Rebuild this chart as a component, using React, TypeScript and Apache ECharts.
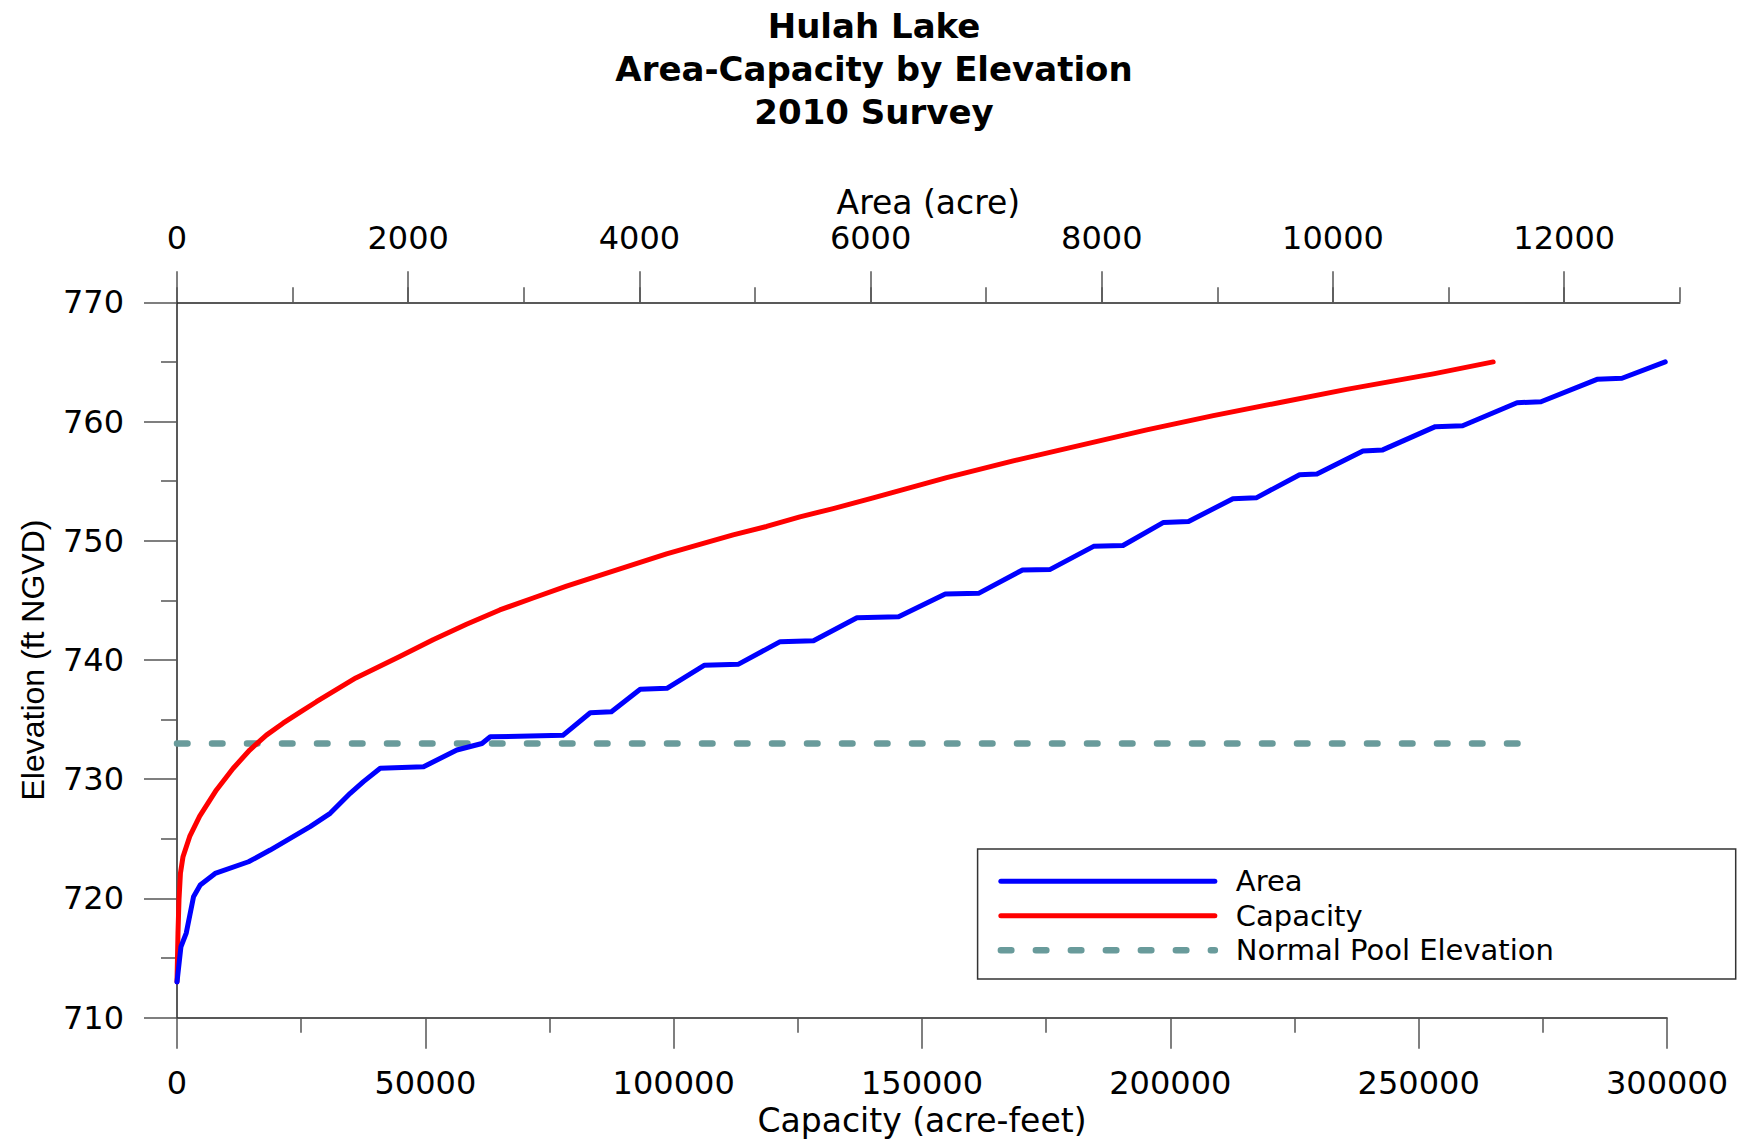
import React, { useEffect, useRef } from "react";
import * as echarts from "echarts";

// ---------- Data ----------
const titleLines = ["Hulah Lake", "Area-Capacity by Elevation", "2010 Survey"];

// Area curve (top axis, acres) vs elevation (ft NGVD)
const areaElevation = [
  713.0, 715.95, 717.1, 720.15, 721.13, 722.1, 723.08, 724.06, 726.02, 727.14,
  728.82, 729.8, 730.92, 731.05, 732.45, 733.0, 733.56, 733.68, 735.58, 735.66,
  737.55, 737.63, 739.55, 739.65, 741.54, 741.62, 743.55, 743.63, 745.53, 745.59,
  747.55, 747.6, 749.53, 749.6, 751.54, 751.61, 753.53, 753.6, 755.54, 755.6,
  757.53, 757.62, 759.57, 759.65, 761.58, 761.66, 763.54, 763.63, 765.0,
];
const areaAcres = [
  0, 34, 80, 143, 201, 330, 619, 806, 1152, 1325,
  1498, 1613, 1758, 2133, 2421, 2638, 2710, 3338, 3575, 3758,
  4007, 4238, 4560, 4858, 5218, 5506, 5882, 6242, 6646, 6934,
  7314, 7554, 7929, 8183, 8534, 8750, 9134, 9336, 9711, 9861,
  10259, 10430, 10885, 11121, 11592, 11799, 12284, 12500, 12874,
];

// Capacity curve (bottom axis, acre-feet) vs elevation
const capacityElevation = [
  713.0, 717.1, 719.9, 722.1, 723.5, 725.2, 726.9, 729.1, 730.9, 732.45,
  733.7, 734.7, 735.6, 736.5, 738.5, 740.3, 741.7, 743.0, 744.2, 745.2,
  746.2, 747.1, 748.0, 748.9, 749.7, 750.5, 751.2, 752.0, 752.7, 753.6,
  755.3, 756.7, 758.0, 759.3, 760.5, 761.6, 762.7, 764.0, 765.0,
];
const capacityAcreFeet = [
  0, 200, 400, 690, 1210, 2560, 4570, 7940, 11280, 14640,
  18000, 21350, 24710, 28080, 36000, 44850, 51560, 58290, 64990, 71700,
  78430, 85130, 91840, 98570, 105270, 111980, 118710, 125410, 132120, 140170,
  154960, 168370, 181810, 195240, 208660, 222090, 235510, 252960, 265000,
];

const normalPoolElevation = 733;
const normalPoolCapacityExtent = [0, 272000];

// Axis scales
const elevationMin = 710;
const elevationMax = 770;
const elevationStep = 10;
const capacityMin = 0;
const capacityMax = 300000;
const capacityStep = 50000;
const areaMin = 0;
const areaMax = 13000;
const areaLabelMax = 12000;
const areaLabelStep = 2000;
const areaMinorStep = 1000;

// ---------- Styling ----------
const W = 1748;
const H = 1142;
const TICK_FONT = "'DejaVu Sans', sans-serif";
const plotLeft = 177;
const plotTop = 302.3;
const plotBottom = H - 1017.7;
const capRightX = 1667;
const areaEndX = 1679.8;
const area12X = 1564.2;

const axisLineStyle = { color: "#222", width: 1.5 };
const tickLineStyle = { color: "#555", width: 1.5 };
const plain = (v: number) => String(v);
const labelStyle = { fontFamily: TICK_FONT, fontSize: 32, color: "#000", formatter: plain };
const nameStyle = { fontFamily: TICK_FONT, fontSize: 33, color: "#000" };

export default function App() {
  const ref = useRef<HTMLDivElement>(null);

  useEffect(() => {
    if (!ref.current) return;
    const chart = echarts.init(ref.current, undefined, { renderer: "svg" });

    const areaData = areaElevation.map((e, i) => [areaAcres[i], e]);
    const capData = capacityElevation.map((e, i) => [capacityAcreFeet[i], e]);
    const poolData = normalPoolCapacityExtent.map((c) => [c, normalPoolElevation]);

    const option: any = {
      animation: false,
      backgroundColor: "#fff",
      title: {
        text: titleLines.join("\n"),
        left: "center",
        top: 4,
        padding: 0,
        textStyle: {
          fontFamily: TICK_FONT,
          fontWeight: "bold",
          fontSize: 34,
          lineHeight: 43,
          color: "#000",
        },
      },
      grid: [
        { left: plotLeft, top: plotTop, right: W - capRightX, bottom: plotBottom },
        { left: plotLeft, top: plotTop, right: W - areaEndX, bottom: plotBottom },
        { left: plotLeft, top: plotTop, right: W - area12X, bottom: plotBottom },
      ],
      xAxis: [
        {
          gridIndex: 0,
          type: "value",
          position: "bottom",
          min: capacityMin,
          max: capacityMax,
          interval: capacityStep,
          name: "Capacity (acre-feet)",
          nameLocation: "middle",
          nameGap: 86,
          nameTextStyle: nameStyle,
          axisLine: { show: true, onZero: false, lineStyle: axisLineStyle },
          axisTick: { show: true, length: 31, lineStyle: tickLineStyle },
          minorTick: { show: true, splitNumber: 2, length: 15, lineStyle: tickLineStyle },
          splitLine: { show: false },
          minorSplitLine: { show: false },
          axisLabel: { ...labelStyle, margin: 49 },
        },
        {
          gridIndex: 1,
          type: "value",
          position: "top",
          min: areaMin,
          max: areaMax,
          interval: areaMinorStep,
          name: "Area (acre)",
          nameLocation: "middle",
          nameGap: 83,
          nameTextStyle: nameStyle,
          axisLine: { show: true, onZero: false, lineStyle: axisLineStyle },
          axisTick: { show: true, length: 15, lineStyle: tickLineStyle },
          axisLabel: { show: false },
          splitLine: { show: false },
        },
        {
          gridIndex: 2,
          type: "value",
          position: "top",
          min: areaMin,
          max: areaLabelMax,
          interval: areaLabelStep,
          axisLine: { show: false, onZero: false },
          axisTick: { show: true, length: 31, lineStyle: tickLineStyle },
          axisLabel: { ...labelStyle, margin: 48 },
          splitLine: { show: false },
        },
      ],
      yAxis: [
        {
          gridIndex: 0,
          type: "value",
          min: elevationMin,
          max: elevationMax,
          interval: elevationStep,
          name: "Elevation (ft NGVD)",
          nameLocation: "middle",
          nameGap: 128,
          nameTextStyle: { fontFamily: "'Liberation Sans', Arial, sans-serif", fontSize: 32, color: "#000" },
          axisLine: { show: true, onZero: false, lineStyle: axisLineStyle },
          axisTick: { show: true, length: 33, lineStyle: tickLineStyle },
          minorTick: { show: true, splitNumber: 2, length: 16, lineStyle: tickLineStyle },
          splitLine: { show: false },
          minorSplitLine: { show: false },
          axisLabel: { ...labelStyle, margin: 53 },
        },
        { gridIndex: 1, type: "value", min: elevationMin, max: elevationMax, show: false, splitLine: { show: false } },
        { gridIndex: 2, type: "value", min: elevationMin, max: elevationMax, show: false, splitLine: { show: false } },
      ],
      legend: {
        orient: "vertical",
        left: 997.6,
        top: 866.7,
        padding: 0,
        itemWidth: 214,
        itemHeight: 30,
        itemGap: 5.5,
        selectedMode: false,
        itemStyle: { color: "rgba(0,0,0,0)", borderWidth: 0, opacity: 0 },
        textStyle: { fontFamily: TICK_FONT, fontSize: 29, color: "#000", padding: [0, 0, 0, 16] },
        data: [
          { name: "Area", itemStyle: { opacity: 0 }, lineStyle: { width: 5, cap: "round" } },
          { name: "Capacity", itemStyle: { opacity: 0 }, lineStyle: { width: 5, cap: "round" } },
          { name: "Normal Pool Elevation", itemStyle: { opacity: 0 }, lineStyle: { width: 6.5, cap: "round" } },
        ],
      },
      graphic: [
        {
          type: "rect",
          shape: { x: 977.6, y: 849, width: 758.1, height: 130 },
          style: { fill: "none", stroke: "#333", lineWidth: 1.5 },
          silent: true,
        },
      ],
      series: [
        {
          name: "Normal Pool Elevation",
          type: "line",
          xAxisIndex: 0,
          yAxisIndex: 0,
          data: poolData,
          symbol: "none",
          showSymbol: false,
          color: "#699b9b",
          lineStyle: { color: "#699b9b", width: 6.5, type: [10.5, 24.5], cap: "round" },
          z: 2,
        },
        {
          name: "Capacity",
          type: "line",
          xAxisIndex: 0,
          yAxisIndex: 0,
          data: capData,
          symbol: "none",
          showSymbol: false,
          color: "#ff0000",
          lineStyle: { color: "#ff0000", width: 5, cap: "round", join: "round" },
          z: 3,
        },
        {
          name: "Area",
          type: "line",
          xAxisIndex: 1,
          yAxisIndex: 1,
          data: areaData,
          symbol: "none",
          showSymbol: false,
          color: "#0000ff",
          lineStyle: { color: "#0000ff", width: 5, cap: "round", join: "round" },
          z: 4,
        },
      ],
    };

    chart.setOption(option);
    return () => chart.dispose();
  }, []);

  return (
    <div
      ref={ref}
      style={{ position: "fixed", left: 0, top: 0, width: W, height: H, background: "#fff" }}
    />
  );
}
